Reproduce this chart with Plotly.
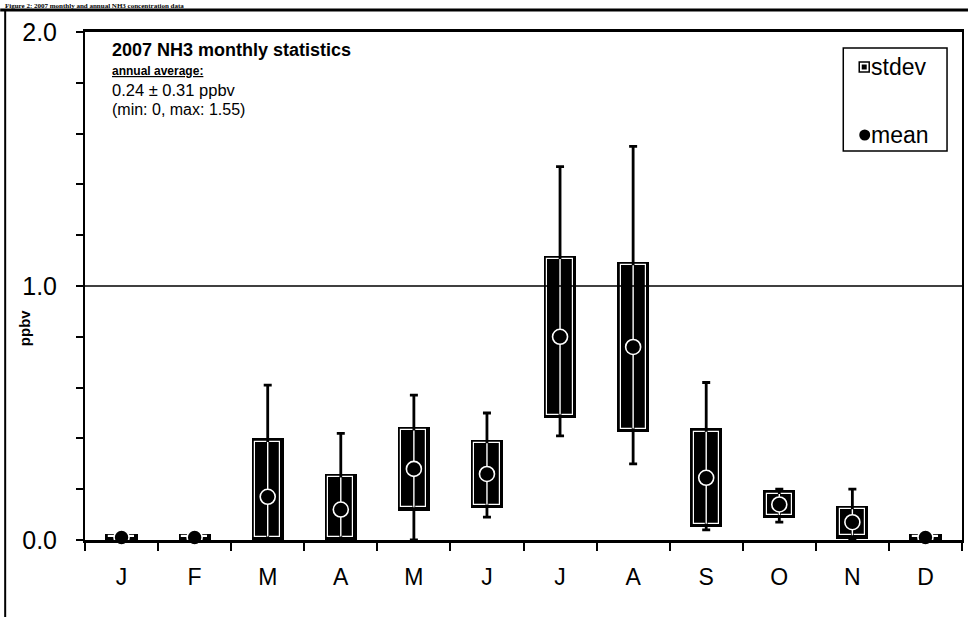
import plotly.graph_objects as go

# ---- monthly NH3 statistics, 2007 (ppbv) ----
months = ["J", "F", "M", "A", "M", "J", "J", "A", "S", "O", "N", "D"]
mean_ppbv = [0.01, 0.01, 0.17, 0.12, 0.28, 0.26, 0.80, 0.76, 0.245, 0.14, 0.07, 0.01]
stdev_ppbv = [0.015, 0.015, 0.23, 0.14, 0.165, 0.135, 0.32, 0.335, 0.195, 0.055, 0.065, 0.015]
min_ppbv = [0.0, 0.0, 0.0, 0.0, 0.0, 0.09, 0.41, 0.30, 0.04, 0.07, 0.0, 0.0]
max_ppbv = [0.03, 0.03, 0.61, 0.42, 0.57, 0.50, 1.47, 1.55, 0.62, 0.20, 0.20, 0.03]
y_ticks = [0.0, 1.0, 2.0]
y_tick_text = ["0.0", "1.0", "2.0"]

FONT = "Arial, 'Liberation Sans', sans-serif"
W, H = 970, 617
ML, MR, MT, MB = 85, 6, 32, 77
PW, PH = W - ML - MR, H - MT - MB

def px(x):
    return (x - ML) / PW

def py(y):
    return (H - MB - y) / PH

idx = list(range(len(months)))
box_lo = [max(m - s, 0.0) for m, s in zip(mean_ppbv, stdev_ppbv)]
box_hi = [m + s for m, s in zip(mean_ppbv, stdev_ppbv)]

BOX_W = 0.44
INSET_X = 3.5 / PW * 12      # inner outline inset, in month units
INSET_Y = 3.5 / PH * 2.0     # inner outline inset, in ppbv

fig = go.Figure()

# black stdev boxes
fig.add_trace(go.Bar(
    x=idx, base=box_lo, y=[h - l for h, l in zip(box_hi, box_lo)],
    width=BOX_W, marker=dict(color="black", line=dict(width=0)),
    showlegend=False, hoverinfo="skip"))

# thin white outline just inside each box
fig.add_trace(go.Bar(
    x=idx, base=[l + INSET_Y for l in box_lo],
    y=[max(h - l - 2 * INSET_Y, 0.003) for h, l in zip(box_hi, box_lo)],
    width=BOX_W - 2 * INSET_X,
    marker=dict(color="rgba(0,0,0,0)", line=dict(color="white", width=1.2)),
    showlegend=False, hoverinfo="skip"))

# min-max whiskers
fig.add_trace(go.Scatter(
    x=idx, y=mean_ppbv, mode="markers", marker=dict(size=1, color="rgba(0,0,0,0)"),
    error_y=dict(type="data", symmetric=False,
                 array=[mx - m for mx, m in zip(max_ppbv, mean_ppbv)],
                 arrayminus=[m - mn for m, mn in zip(mean_ppbv, min_ppbv)],
                 color="black", thickness=2.8, width=4),
    cliponaxis=False, showlegend=False, hoverinfo="skip"))

# white centre line inside the boxes
fig.add_trace(go.Scatter(
    x=idx, y=mean_ppbv, mode="markers", marker=dict(size=1, color="rgba(0,0,0,0)"),
    error_y=dict(type="data", symmetric=False,
                 array=[max(h - INSET_Y - m, 0) for h, m in zip(box_hi, mean_ppbv)],
                 arrayminus=[max(m - l - INSET_Y, 0) for m, l in zip(mean_ppbv, box_lo)],
                 color="white", thickness=1.4, width=0),
    cliponaxis=False, showlegend=False, hoverinfo="skip"))

# mean markers
fig.add_trace(go.Scatter(
    x=idx, y=mean_ppbv, mode="markers",
    marker=dict(symbol="circle", size=15, color="black", line=dict(color="white", width=1.6)),
    cliponaxis=False, showlegend=False, hoverinfo="skip"))

shapes = [
    # reference line at 1 ppbv
    dict(type="line", xref="paper", yref="y", x0=0, x1=1, y0=1, y1=1,
         line=dict(color="black", width=1.5)),
    # outer frame of the figure
    dict(type="line", xref="paper", yref="paper", x0=px(0), x1=px(W), y0=py(10), y1=py(10),
         line=dict(color="black", width=3)),
    dict(type="line", xref="paper", yref="paper", x0=px(5), x1=px(5), y0=py(10), y1=py(H + 2),
         line=dict(color="black", width=2)),
    # legend box
    dict(type="rect", xref="paper", yref="paper", x0=px(845), x1=px(949), y0=py(48), y1=py(151),
         line=dict(color="black", width=1.5), fillcolor="white"),
    dict(type="rect", xref="paper", yref="paper", x0=px(861), x1=px(871), y0=py(62), y1=py(72),
         line=dict(color="black", width=1.5), fillcolor="white"),
    dict(type="rect", xref="paper", yref="paper", x0=px(863.5), x1=px(868.5), y0=py(64.5), y1=py(69.5),
         line=dict(width=0), fillcolor="black"),
    dict(type="circle", xref="paper", yref="paper", x0=px(861), x1=px(872), y0=py(129.5), y1=py(140.5),
         line=dict(width=0), fillcolor="black"),
]

def note(text, x, y, size, **kw):
    return dict(text=text, xref="paper", yref="paper", x=px(x), y=py(y),
                xanchor="left", yanchor="middle", showarrow=False,
                font=dict(family=kw.pop("family", FONT), size=size, color="black"), **kw)

annotations = [
    note("<b>2007 NH3 monthly statistics</b>", 110, 50, 18),
    note("<b><u>annual average:</u></b>", 110, 71, 12),
    note("0.24 ± 0.31 ppbv", 110, 90, 16.5),
    note("(min: 0, max: 1.55)", 110, 110, 16),
    note("stdev", 871, 67, 23),
    note("mean", 871, 135, 23),
    dict(text="<b>ppbv</b>", xref="paper", yref="paper", x=px(24), y=py(328),
         xanchor="center", yanchor="middle", textangle=-90, showarrow=False,
         font=dict(family=FONT, size=15, color="black")),
    dict(text="<b>Figure 2: 2007 monthly and annual NH3 concentration data</b>",
         xref="paper", yref="paper", x=px(4), y=py(1), xanchor="left", yanchor="top",
         showarrow=False, borderpad=0,
         font=dict(family="'Liberation Serif', serif", size=7, color="black")),
]

fig.update_layout(
    width=W, height=H,
    margin=dict(l=ML, r=MR, t=MT, b=MB, pad=0),
    paper_bgcolor="white", plot_bgcolor="white",
    barmode="overlay", bargap=0,
    showlegend=False,
    font=dict(family=FONT, color="black"),
    shapes=shapes, annotations=annotations,
    xaxis=dict(range=[-0.5, 11.5], tickvals=idx, ticktext=months, ticks="",
               tickfont=dict(size=23, family=FONT), ticklabelstandoff=15,
               showgrid=False, zeroline=False, showline=True, linecolor="black",
               linewidth=2.5, mirror=True,
               minor=dict(tick0=-0.5, dtick=1, ticks="outside", ticklen=8,
                          tickwidth=1.5, tickcolor="black", showgrid=False)),
    yaxis=dict(range=[0, 2], tickvals=y_ticks, ticktext=y_tick_text,
               ticks="outside", ticklen=7, tickwidth=1.5, tickcolor="black",
               tickfont=dict(size=25, family=FONT), ticklabelstandoff=14,
               showgrid=False, zeroline=False, showline=True, linecolor="black",
               linewidth=2, mirror=True,
               minor=dict(tick0=0, dtick=0.2, ticks="outside", ticklen=7,
                          tickwidth=1.5, tickcolor="black", showgrid=False)),
)

fig.write_html("out.html")
